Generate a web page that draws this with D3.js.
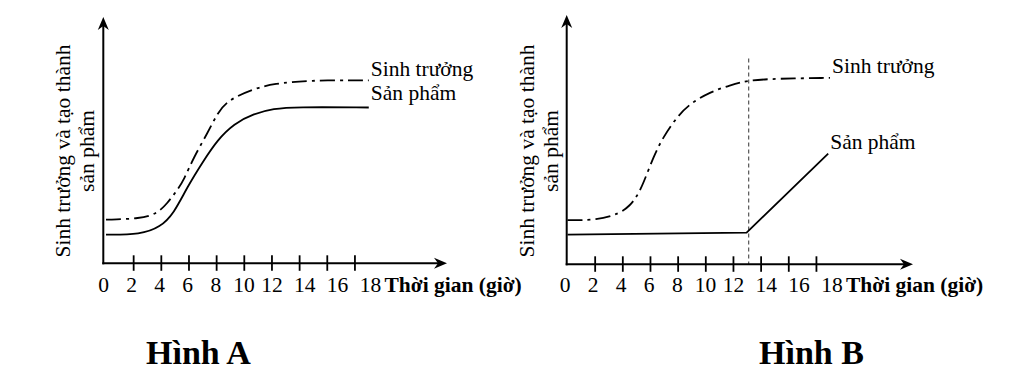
<!DOCTYPE html>
<html><head><meta charset="utf-8">
<script src="https://cdn.jsdelivr.net/npm/d3@7"></script>
<style>
body{margin:0;background:#fff}
svg{display:block;background:#fff}
text{font-family:"Liberation Serif","Times New Roman",serif;fill:#000}
</style>
</head><body>
<svg id="c" width="1010" height="380"></svg>
<script>
// ---------- data ----------
const hourTicks = [0, 2, 4, 6, 8, 10, 12, 14, 16, 18];
const tickLabels = ["0", "2", "4", "6", "8", "10", "12", "14", "16", "18"];
const xTitle = "Thời gian (giờ)";
const yTitleLines = ["Sinh trưởng và tạo thành", "sản phẩm"];
const seriesNames = ["Sinh trưởng", "Sản phẩm"];
const panelTitles = ["Hình A", "Hình B"];

// Hình A – growth (dash-dot) and product (solid); hours and relative level (0–100)
const growthA_t = [0, 2.5, 3.7, 4.42, 5.14, 5.62, 6.35, 7.32, 8.04, 8.77, 10.7, 12.14, 14.57, 19];
const growthA_v = [17.8, 18.2, 20.3, 24.4, 29.8, 33.9, 43.4, 52.9, 61.1, 66.5, 71.3, 73.3, 74.7, 74.7];
const productA_t = [0, 2.5, 3.93, 4.9, 5.87, 7.07, 8.04, 9.25, 10.7, 12.14, 13.6, 19];
const productA_v = [11.7, 11.7, 14.8, 20.3, 31.1, 42.0, 50.2, 57.0, 61.1, 63.1, 63.8, 63.6];

// Hình B
const growthB_t = [0, 2.12, 3.8, 4.53, 5.0, 5.49, 6.21, 6.93, 7.9, 8.86, 10.3, 11.75, 13.07, 15.12, 18.98];
const growthB_v = [18.0, 18.0, 20.7, 24.1, 27.5, 33.0, 43.9, 52.0, 60.1, 65.6, 70.3, 73.1, 75.1, 75.8, 76.1];
const productB_t = [0, 12.95, 18.85];
const productB_v = [12.1, 12.9, 45.2];
const cutoffB = [13.1];        // hour of the vertical dashed marker
const cutoffB_v = [0, 84];     // vertical extent of the marker

// ---------- layout ----------
const svg = d3.select("#c");
const FS = 21.5;

const panels = [
  {title: panelTitles[0], ox: 103.3, oy: 263.3, x0: 106, topY: 17, tipX: 447,
   growth: d3.zip(growthA_t, growthA_v), product: d3.zip(productA_t, productA_v),
   curveP: d3.curveBasis, gLabelDy: -4, pLabelDy: -7, titleX: 146, cutoff: null},
  {title: panelTitles[1], ox: 566.7, oy: 264.3, x0: 567.5, topY: 15, tipX: 913,
   growth: d3.zip(growthB_t, growthB_v), product: d3.zip(productB_t, productB_v),
   curveP: d3.curveLinear, gLabelDy: -4.5, pLabelDy: -5, titleX: 759, cutoff: cutoffB[0]}
];

panels.forEach(p => {
  const g = svg.append("g");
  const x = d3.scaleLinear().domain([0, 18]).range([p.x0, p.x0 + 18 * 13.83]);
  const y = d3.scaleLinear().domain([0, 100]).range([p.oy, p.oy - 245]);
  // label positions drift right for two-digit labels (typed text in original)
  const xl = d3.scaleLinear().domain([0, 12, 18]).range([x(0) - 2.5, x(12), x(18) + 15.5]);

  // vertical dashed marker (B)
  if (p.cutoff !== null) {
    g.append("line")
      .attr("x1", x(p.cutoff)).attr("x2", x(p.cutoff))
      .attr("y1", y(cutoffB_v[1])).attr("y2", y(cutoffB_v[0]))
      .attr("stroke", "#555").attr("stroke-width", 1.2)
      .attr("stroke-dasharray", "4,3");
  }

  // axes
  g.append("line").attr("x1", p.ox).attr("x2", p.ox).attr("y1", p.oy + 1).attr("y2", p.topY + 8)
    .attr("stroke", "#000").attr("stroke-width", 2);
  g.append("line").attr("x1", p.ox - 1).attr("x2", p.tipX - 8).attr("y1", p.oy).attr("y2", p.oy)
    .attr("stroke", "#000").attr("stroke-width", 2);
  // arrow heads
  g.append("path")
    .attr("d", `M${p.tipX},${p.oy} L${p.tipX - 13},${p.oy - 5.5} L${p.tipX - 9},${p.oy} L${p.tipX - 13},${p.oy + 5.5} Z`)
    .attr("fill", "#000");
  g.append("path")
    .attr("d", `M${p.ox},${p.topY} L${p.ox - 5.5},${p.topY + 13} L${p.ox},${p.topY + 9} L${p.ox + 5.5},${p.topY + 13} Z`)
    .attr("fill", "#000");

  // tick marks
  g.selectAll("line.tick").data(hourTicks.filter(d => d > 0)).join("line")
    .attr("class", "tick")
    .attr("x1", d => x(d)).attr("x2", d => x(d))
    .attr("y1", p.oy - 8).attr("y2", p.oy + 7.5)
    .attr("stroke", "#000").attr("stroke-width", 1.8);

  // tick labels
  g.selectAll("text.tl").data(hourTicks).join("text")
    .attr("class", "tl")
    .attr("x", d => xl(d)).attr("y", 292)
    .attr("text-anchor", "middle").attr("font-size", FS)
    .text((d, i) => tickLabels[i]);
  g.append("text")
    .attr("x", xl(18) + 14).attr("y", 292)
    .attr("font-size", FS).attr("font-weight", "bold")
    .text(xTitle);

  // y title
  const cy = 151;
  yTitleLines.forEach((t, i) => {
    g.append("text")
      .attr("transform", `translate(${p.ox - 33 + i * 24},${cy}) rotate(-90)`)
      .attr("text-anchor", "middle").attr("font-size", FS)
      .text(t);
  });

  // curves
  const lineG = d3.line().x(d => x(d[0])).y(d => y(d[1])).curve(d3.curveBasis);
  const lineP = d3.line().x(d => x(d[0])).y(d => y(d[1])).curve(p.curveP);
  g.append("path").attr("d", lineG(p.growth)).attr("fill", "none")
    .attr("stroke", "#000").attr("stroke-width", 1.8).attr("stroke-dasharray", "15,5,3,5");
  g.append("path").attr("d", lineP(p.product)).attr("fill", "none")
    .attr("stroke", "#000").attr("stroke-width", 1.8);

  // series labels
  const gl = p.growth[p.growth.length - 1];
  const pl = p.product[p.product.length - 1];
  g.append("text").attr("x", x(gl[0]) + 2).attr("y", y(gl[1]) + p.gLabelDy)
    .attr("font-size", FS).text(seriesNames[0]);
  g.append("text").attr("x", x(pl[0]) + 2).attr("y", y(pl[1]) + p.pLabelDy)
    .attr("font-size", FS).text(seriesNames[1]);

  // panel title
  g.append("text").attr("x", p.titleX).attr("y", 364)
    .attr("font-size", 34).attr("font-weight", "bold")
    .text(p.title);
});
</script>
</body></html>
